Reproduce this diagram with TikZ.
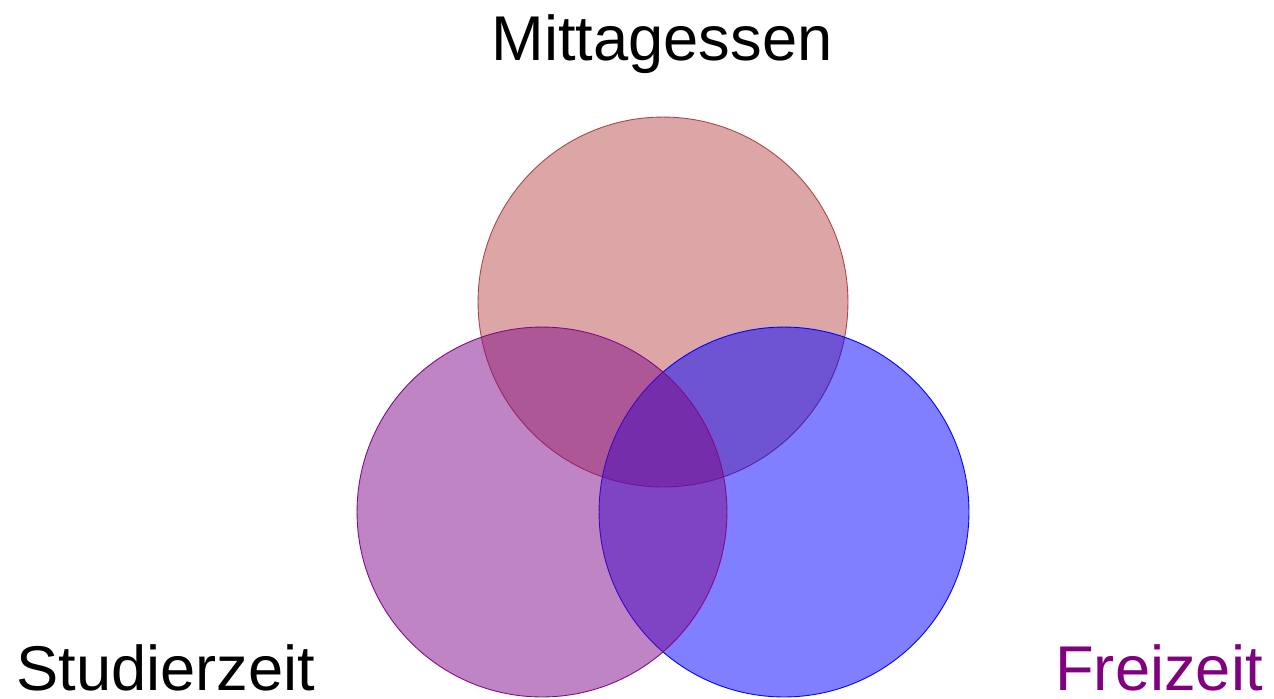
\documentclass[tikz,border=0pt]{standalone}
\usepackage{fontspec}
\setmainfont{Liberation Sans}
\definecolor{mittagrot}{RGB}{188,78,78}
\definecolor{studierlila}{RGB}{128,10,136}
\definecolor{freilila}{RGB}{128,0,128}
\tikzset{
  menge/.style={circle, minimum size=7.4cm, inner sep=0pt, fill opacity=0.5, line width=0.5pt},
  titel/.style={font=\fontsize{36}{40}\selectfont, inner sep=0pt}
}

\begin{document}
\begin{tikzpicture}[x=0.02cm, y=-0.02cm]
\useasboundingbox (0, 0) rectangle (1274, 698);

\node[menge, draw=mittagrot!90!black, fill=mittagrot] (mittag) at (663, 302) {};
\node[menge, draw=blue, fill=blue] (frei) at (784, 512) {};
\node[menge, draw=studierlila, fill=studierlila] (studier) at (542, 512) {};

\node[titel, anchor=base] (tmittag) at (662, 60) {Mittagessen};
\node[titel, anchor=base west] (tstudier) at (16, 690) {Studierzeit};
\node[titel, anchor=base east, text=freilila] (tfrei) at (1263, 690) {Freizeit};

\end{tikzpicture}
\end{document}
